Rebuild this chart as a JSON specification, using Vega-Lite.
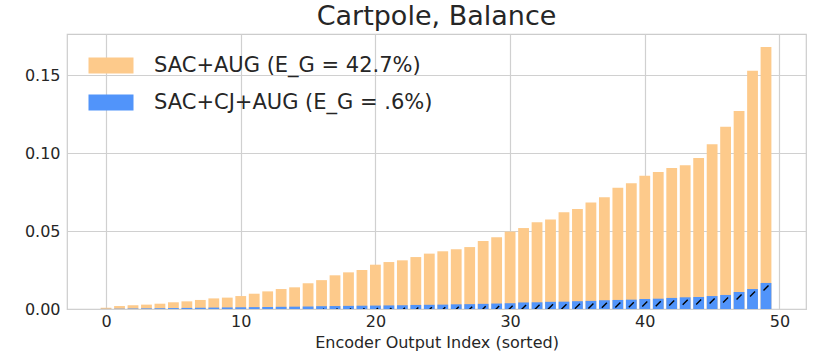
{
  "$schema": "https://vega.github.io/schema/vega-lite/v6.json",
  "autosize": {"type": "none"},
  "width": 739,
  "height": 275,
  "padding": {"left": 67, "top": 34, "right": 24, "bottom": 47},
  "background": "white",
  "config": {
    "font": "DejaVu Sans",
    "view": {"stroke": "#cccccc", "strokeWidth": 1.2},
    "axis": {"domain": false, "ticks": false, "gridColor": "#d0d0d0", "gridWidth": 1.2, "labelColor": "#262626", "titleColor": "#262626", "labelFont": "DejaVu Sans", "titleFont": "DejaVu Sans"}
  },
  "title": {"text": "Cartpole, Balance", "fontSize": 27, "fontWeight": "normal", "color": "#262626", "font": "DejaVu Sans", "offset": 3, "anchor": "middle"},
  "data": {"values": [
    {"i":0,"s":"A","v":0.0008},{"i":1,"s":"A","v":0.0019},{"i":2,"s":"A","v":0.0024},{"i":3,"s":"A","v":0.0028},{"i":4,"s":"A","v":0.0034},
    {"i":5,"s":"A","v":0.0043},{"i":6,"s":"A","v":0.0049},{"i":7,"s":"A","v":0.0058},{"i":8,"s":"A","v":0.0068},{"i":9,"s":"A","v":0.0073},
    {"i":10,"s":"A","v":0.0083},{"i":11,"s":"A","v":0.0098},{"i":12,"s":"A","v":0.0113},{"i":13,"s":"A","v":0.0128},{"i":14,"s":"A","v":0.0139},
    {"i":15,"s":"A","v":0.0165},{"i":16,"s":"A","v":0.0185},{"i":17,"s":"A","v":0.0216},{"i":18,"s":"A","v":0.0235},{"i":19,"s":"A","v":0.025},
    {"i":20,"s":"A","v":0.0284},{"i":21,"s":"A","v":0.0301},{"i":22,"s":"A","v":0.0312},{"i":23,"s":"A","v":0.0333},{"i":24,"s":"A","v":0.0355},
    {"i":25,"s":"A","v":0.037},{"i":26,"s":"A","v":0.0383},{"i":27,"s":"A","v":0.0397},{"i":28,"s":"A","v":0.0436},{"i":29,"s":"A","v":0.046},
    {"i":30,"s":"A","v":0.0496},{"i":31,"s":"A","v":0.0519},{"i":32,"s":"A","v":0.0556},{"i":33,"s":"A","v":0.0573},{"i":34,"s":"A","v":0.062},
    {"i":35,"s":"A","v":0.0641},{"i":36,"s":"A","v":0.0682},{"i":37,"s":"A","v":0.0716},{"i":38,"s":"A","v":0.0778},{"i":39,"s":"A","v":0.0806},
    {"i":40,"s":"A","v":0.0855},{"i":41,"s":"A","v":0.0878},{"i":42,"s":"A","v":0.0904},{"i":43,"s":"A","v":0.0921},{"i":44,"s":"A","v":0.0968},
    {"i":45,"s":"A","v":0.1056},{"i":46,"s":"A","v":0.1169},{"i":47,"s":"A","v":0.127},{"i":48,"s":"A","v":0.1528},{"i":49,"s":"A","v":0.168},
    {"i":0,"s":"C","v":0.0001},{"i":1,"s":"C","v":0.0002},{"i":2,"s":"C","v":0.0003},{"i":3,"s":"C","v":0.0004},{"i":4,"s":"C","v":0.0005},
    {"i":5,"s":"C","v":0.0006},{"i":6,"s":"C","v":0.0007},{"i":7,"s":"C","v":0.0008},{"i":8,"s":"C","v":0.0009},{"i":9,"s":"C","v":0.001},
    {"i":10,"s":"C","v":0.0011},{"i":11,"s":"C","v":0.0012},{"i":12,"s":"C","v":0.0013},{"i":13,"s":"C","v":0.0014},{"i":14,"s":"C","v":0.0015},
    {"i":15,"s":"C","v":0.0016},{"i":16,"s":"C","v":0.0018},{"i":17,"s":"C","v":0.0019},{"i":18,"s":"C","v":0.002},{"i":19,"s":"C","v":0.0021},
    {"i":20,"s":"C","v":0.0022},{"i":21,"s":"C","v":0.0023},{"i":22,"s":"C","v":0.0024},{"i":23,"s":"C","v":0.0026},{"i":24,"s":"C","v":0.0027},
    {"i":25,"s":"C","v":0.0028},{"i":26,"s":"C","v":0.003},{"i":27,"s":"C","v":0.0031},{"i":28,"s":"C","v":0.0033},{"i":29,"s":"C","v":0.0035},
    {"i":30,"s":"C","v":0.0037},{"i":31,"s":"C","v":0.0042},{"i":32,"s":"C","v":0.0043},{"i":33,"s":"C","v":0.0046},{"i":34,"s":"C","v":0.0047},
    {"i":35,"s":"C","v":0.005},{"i":36,"s":"C","v":0.0052},{"i":37,"s":"C","v":0.0056},{"i":38,"s":"C","v":0.0058},{"i":39,"s":"C","v":0.006},
    {"i":40,"s":"C","v":0.0064},{"i":41,"s":"C","v":0.0066},{"i":42,"s":"C","v":0.0071},{"i":43,"s":"C","v":0.0075},{"i":44,"s":"C","v":0.0077},
    {"i":45,"s":"C","v":0.0083},{"i":46,"s":"C","v":0.009},{"i":47,"s":"C","v":0.0109},{"i":48,"s":"C","v":0.0128},{"i":49,"s":"C","v":0.0167}
  ]},
  "layer": [
    {
      "transform": [{"filter": "datum.s == 'A'"}],
      "mark": {"type": "bar", "size": 10.8, "clip": true},
      "encoding": {
        "x": {"field": "i", "type": "quantitative", "scale": {"domain": [-2.9, 51.97], "nice": false, "zero": false, "padding": 0},
              "axis": {"values": [0, 10, 20, 30, 40, 50], "labelFontSize": 16, "labelPadding": 4, "title": "Encoder Output Index (sorted)", "titleFontSize": 16, "titleFontWeight": "normal", "titlePadding": 5}},
        "y": {"field": "v", "type": "quantitative", "stack": null, "scale": {"domain": [0, 0.1763], "nice": false, "padding": 0},
              "axis": {"values": [0, 0.05, 0.1, 0.15], "format": ".2f", "labelFontSize": 16, "labelPadding": 7, "title": null}},
        "color": {"field": "s", "type": "nominal",
                  "scale": {"domain": ["A", "C"], "range": ["#fdca8b", "#5194fa"]},
                  "legend": {"orient": "none", "legendX": 33.5, "legendY": 21, "title": null, "padding": 0,
                             "labelExpr": "datum.value == 'A' ? 'SAC+AUG (E_G = 42.7%)' : 'SAC+CJ+AUG (E_G = .6%)'",
                             "labelFontSize": 21, "labelColor": "#262626", "labelFont": "DejaVu Sans", "labelLimit": 500,
                             "symbolType": "M-2.25,-0.8H2.25V0.8H-2.25Z", "symbolSize": 400, "symbolStrokeWidth": 0, "symbolOpacity": 1,
                             "labelOffset": 32.5, "rowPadding": 15}}
      }
    },
    {
      "transform": [{"filter": "datum.s == 'C'"}],
      "mark": {"type": "bar", "size": 10.8, "clip": true},
      "encoding": {
        "x": {"field": "i", "type": "quantitative"},
        "y": {"field": "v", "type": "quantitative", "stack": null},
        "color": {"field": "s", "type": "nominal"}
      }
    },
    {
      "transform": [{"filter": "datum.s == 'C' && datum.v >= 0.0018"}],
      "mark": {"type": "point", "shape": "M-0.5,0.5L0.5,-0.5", "size": 100, "stroke": "black", "strokeWidth": 1.4, "filled": false, "opacity": 1, "yOffset": 5, "clip": true},
      "encoding": {
        "x": {"field": "i", "type": "quantitative"},
        "y": {"field": "v", "type": "quantitative", "stack": null}
      }
    }
  ]
}
